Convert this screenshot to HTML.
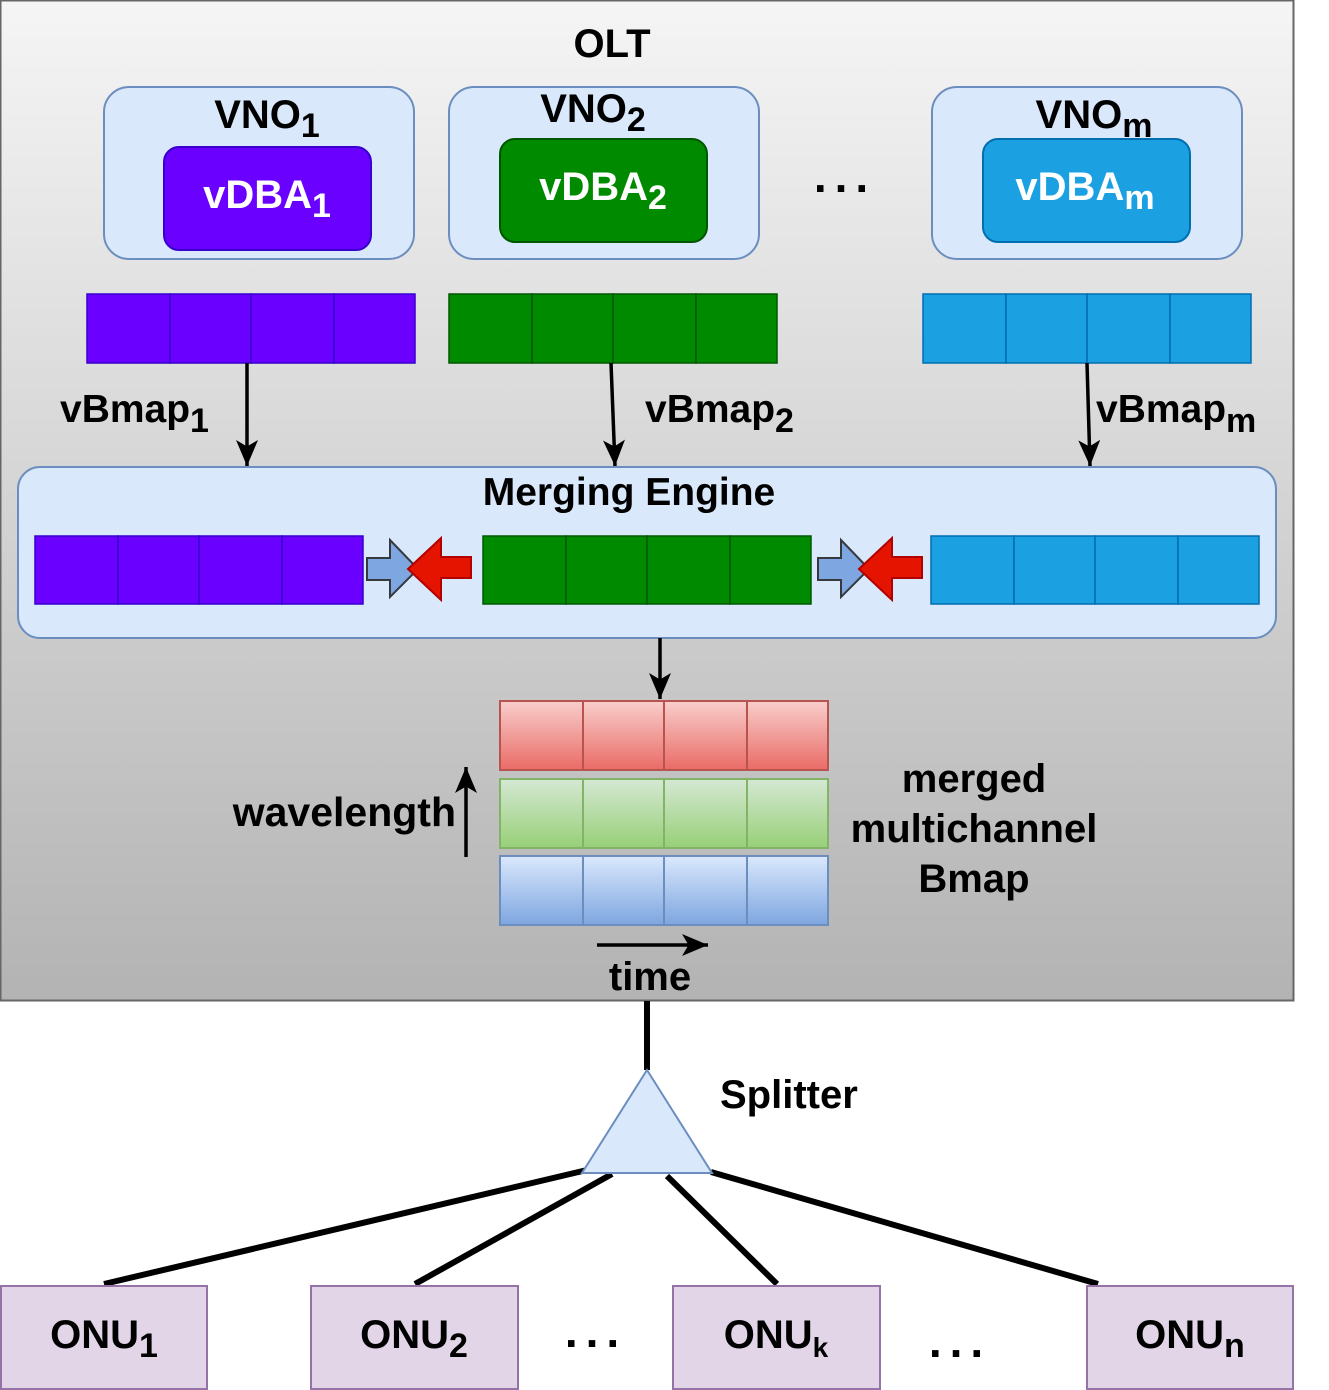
<!DOCTYPE html>
<html><head><meta charset="utf-8"><style>
html,body{margin:0;padding:0;background:#fff;}
svg{display:block;font-family:"Liberation Sans",sans-serif;font-weight:bold;}
</style></head><body>
<svg width="1329" height="1390" viewBox="0 0 1329 1390" xmlns="http://www.w3.org/2000/svg">
<defs>
<linearGradient id="olt" x1="0" y1="0" x2="0" y2="1"><stop offset="0" stop-color="#f5f5f5"/><stop offset="1" stop-color="#b3b3b3"/></linearGradient>
<linearGradient id="gr" x1="0" y1="0" x2="0" y2="1"><stop offset="0" stop-color="#f8cecc"/><stop offset="1" stop-color="#ea6b66"/></linearGradient>
<linearGradient id="gg" x1="0" y1="0" x2="0" y2="1"><stop offset="0" stop-color="#d5e8d4"/><stop offset="1" stop-color="#97d077"/></linearGradient>
<linearGradient id="gb" x1="0" y1="0" x2="0" y2="1"><stop offset="0" stop-color="#dae8fc"/><stop offset="1" stop-color="#7ea6e0"/></linearGradient>
<marker id="ah" markerWidth="26" markerHeight="22" refX="10" refY="5" orient="auto" markerUnits="userSpaceOnUse" viewBox="0 0 10 10" preserveAspectRatio="none"><path d="M0,0 L10,5 L0,10 L2.5,5 Z" fill="#000"/></marker>
</defs>
<rect x="0.5" y="0.5" width="1293" height="1000" fill="url(#olt)" stroke="#666" stroke-width="2"/>
<text x="612" y="57" font-size="40" text-anchor="middle">OLT</text>

<rect x="104" y="87" width="310" height="172" rx="25" fill="#dae8fc" stroke="#6c8ebf" stroke-width="2"/>
<rect x="449" y="87" width="310" height="172" rx="25" fill="#dae8fc" stroke="#6c8ebf" stroke-width="2"/>
<rect x="932" y="87" width="310" height="172" rx="25" fill="#dae8fc" stroke="#6c8ebf" stroke-width="2"/>
<text x="267" y="128" font-size="40" text-anchor="middle">VNO<tspan font-size="34" dy="9">1</tspan></text>
<text x="593" y="122" font-size="40" text-anchor="middle">VNO<tspan font-size="34" dy="9">2</tspan></text>
<text x="1094" y="128" font-size="40" text-anchor="middle">VNO<tspan font-size="34" dy="9">m</tspan></text>
<rect x="164" y="147" width="207" height="103" rx="15" fill="#6a00ff" stroke="#3700cc" stroke-width="2"/>
<rect x="500" y="139" width="207" height="103" rx="15" fill="#008a00" stroke="#005700" stroke-width="2"/>
<rect x="983" y="139" width="207" height="103" rx="15" fill="#1ba1e2" stroke="#006eaf" stroke-width="2"/>
<text x="267" y="208" font-size="40" fill="#fff" text-anchor="middle">vDBA<tspan font-size="34" dy="9">1</tspan></text>
<text x="603" y="200" font-size="40" fill="#fff" text-anchor="middle">vDBA<tspan font-size="34" dy="9">2</tspan></text>
<text x="1085" y="200" font-size="40" fill="#fff" text-anchor="middle">vDBA<tspan font-size="34" dy="9">m</tspan></text>
<text x="845" y="192" font-size="46" text-anchor="middle" letter-spacing="8">...</text>

<g stroke-width="1.5">
<g fill="#6a00ff" stroke="#3700cc"><rect x="87" y="294" width="83" height="69"/><rect x="170" y="294" width="81" height="69"/><rect x="251" y="294" width="83" height="69"/><rect x="334" y="294" width="81" height="69"/></g>
<g fill="#008a00" stroke="#005700"><rect x="449" y="294" width="83" height="69"/><rect x="532" y="294" width="81" height="69"/><rect x="613" y="294" width="83" height="69"/><rect x="696" y="294" width="81" height="69"/></g>
<g fill="#1ba1e2" stroke="#006eaf"><rect x="923" y="294" width="83" height="69"/><rect x="1006" y="294" width="81" height="69"/><rect x="1087" y="294" width="83" height="69"/><rect x="1170" y="294" width="81" height="69"/></g>
</g>
<g stroke="#000" stroke-width="3.5" marker-end="url(#ah)">
<line x1="247" y1="363" x2="247" y2="466"/>
<line x1="611" y1="363" x2="615" y2="466"/>
<line x1="1087" y1="363" x2="1090" y2="466"/>
</g>
<text x="60" y="422" font-size="39">vBmap<tspan font-size="34" dy="10">1</tspan></text>
<text x="645" y="422" font-size="39">vBmap<tspan font-size="34" dy="10">2</tspan></text>
<text x="1096" y="422" font-size="39">vBmap<tspan font-size="34" dy="10">m</tspan></text>

<rect x="18" y="467" width="1258" height="171" rx="22" fill="#dae8fc" stroke="#6c8ebf" stroke-width="2"/>
<text x="629" y="505" font-size="39" text-anchor="middle">Merging Engine</text>
<g stroke-width="1.5">
<g fill="#6a00ff" stroke="#3700cc"><rect x="35" y="536" width="83" height="68"/><rect x="118" y="536" width="81" height="68"/><rect x="199" y="536" width="83" height="68"/><rect x="282" y="536" width="81" height="68"/></g>
<g fill="#008a00" stroke="#005700"><rect x="483" y="536" width="83" height="68"/><rect x="566" y="536" width="81" height="68"/><rect x="647" y="536" width="83" height="68"/><rect x="730" y="536" width="81" height="68"/></g>
<g fill="#1ba1e2" stroke="#006eaf"><rect x="931" y="536" width="83" height="68"/><rect x="1014" y="536" width="81" height="68"/><rect x="1095" y="536" width="83" height="68"/><rect x="1178" y="536" width="81" height="68"/></g>
</g>
<g id="pair">
<polygon points="367,558 390,558 390,540 418,569 390,597 390,580 367,580" fill="#7ea6e0" stroke="#36393d" stroke-width="2"/>
<polygon points="408,569 441,538 441,557 471,557 471,578 441,578 441,600" fill="#e51400" stroke="#b20000" stroke-width="2"/>
</g>
<use href="#pair" x="451"/>

<line x1="660" y1="638" x2="660" y2="699" stroke="#000" stroke-width="3.5" marker-end="url(#ah)"/>

<g stroke-width="2">
<g fill="url(#gr)" stroke="#b85450"><rect x="500" y="701" width="83" height="69"/><rect x="583" y="701" width="81" height="69"/><rect x="664" y="701" width="83" height="69"/><rect x="747" y="701" width="81" height="69"/></g>
<g fill="url(#gg)" stroke="#82b366"><rect x="500" y="779" width="83" height="69"/><rect x="583" y="779" width="81" height="69"/><rect x="664" y="779" width="83" height="69"/><rect x="747" y="779" width="81" height="69"/></g>
<g fill="url(#gb)" stroke="#6c8ebf"><rect x="500" y="856" width="83" height="69"/><rect x="583" y="856" width="81" height="69"/><rect x="664" y="856" width="83" height="69"/><rect x="747" y="856" width="81" height="69"/></g>
</g>
<line x1="466" y1="857" x2="466" y2="767" stroke="#000" stroke-width="3.5" marker-end="url(#ah)"/>
<text x="456" y="826" font-size="41" text-anchor="end">wavelength</text>
<line x1="597" y1="945" x2="708" y2="945" stroke="#000" stroke-width="3.5" marker-end="url(#ah)"/>
<text x="650" y="990" font-size="40" text-anchor="middle">time</text>
<text font-size="40" text-anchor="middle"><tspan x="974" y="792">merged</tspan><tspan x="974" y="842">multichannel</tspan><tspan x="974" y="892">Bmap</tspan></text>

<line x1="647" y1="1001" x2="647" y2="1070" stroke="#000" stroke-width="6"/>
<g stroke="#000" stroke-width="6">
<line x1="587" y1="1170" x2="104" y2="1284"/>
<line x1="612" y1="1174" x2="415" y2="1284"/>
<line x1="667" y1="1176" x2="777" y2="1284"/>
<line x1="711" y1="1172" x2="1098" y2="1284"/>
</g>
<polygon points="647,1070 712,1173 582,1173" fill="#dae8fc" stroke="#6c8ebf" stroke-width="2"/>
<text x="720" y="1108" font-size="40">Splitter</text>

<g fill="#e1d5e7" stroke="#9673a6" stroke-width="2">
<rect x="1" y="1286" width="206" height="103"/>
<rect x="311" y="1286" width="207" height="103"/>
<rect x="673" y="1286" width="207" height="103"/>
<rect x="1087" y="1286" width="206" height="103"/>
</g>
<text x="104" y="1348" font-size="40" text-anchor="middle">ONU<tspan font-size="34" dy="9">1</tspan></text>
<text x="414" y="1348" font-size="40" text-anchor="middle">ONU<tspan font-size="34" dy="9">2</tspan></text>
<text x="776" y="1348" font-size="40" text-anchor="middle">ONU<tspan font-size="28" dy="9">k</tspan></text>
<text x="1190" y="1348" font-size="40" text-anchor="middle">ONU<tspan font-size="34" dy="9">n</tspan></text>
<text x="596" y="1347" font-size="46" text-anchor="middle" letter-spacing="8">...</text>
<text x="960" y="1357" font-size="46" text-anchor="middle" letter-spacing="8">...</text>
</svg>
</body></html>
